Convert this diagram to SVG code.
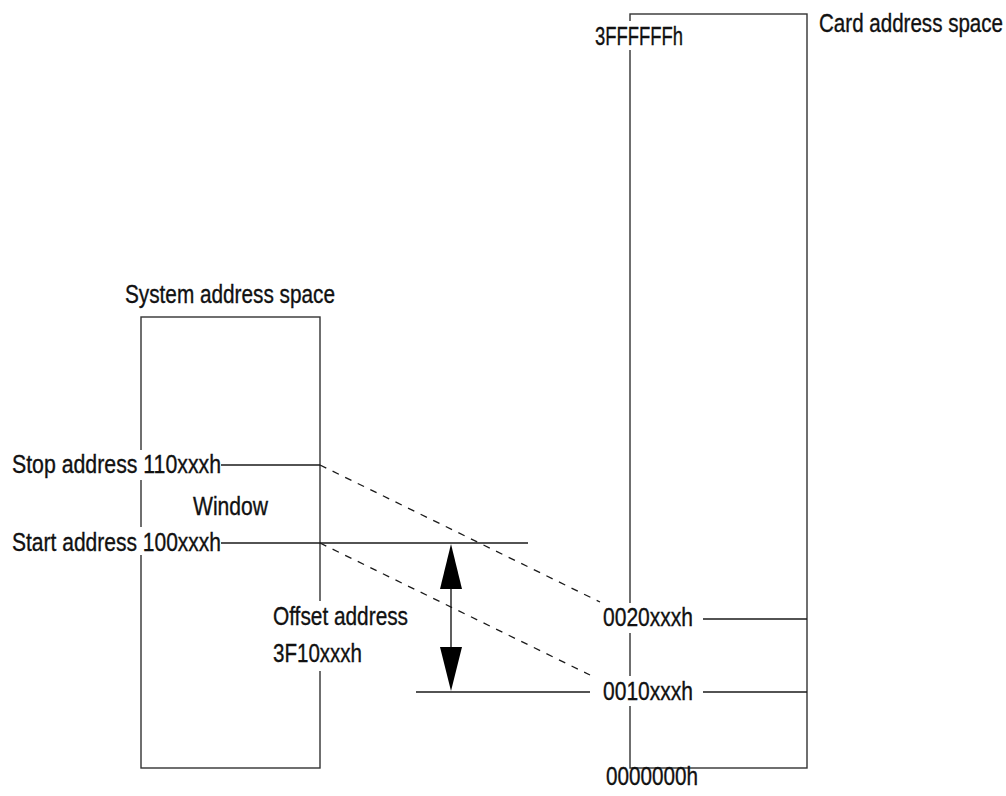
<svg xmlns="http://www.w3.org/2000/svg" width="1006" height="796" viewBox="0 0 1006 796">
<style>
.t{font-family:"Liberation Sans",Arial,sans-serif;font-size:25.5px;fill:#111;stroke:#111;stroke-width:0.35}
.ln{stroke:#1a1a1a;stroke-width:1.4;fill:none}
.box{stroke:#333;stroke-width:1.4;fill:none}
.dash{stroke:#1a1a1a;stroke-width:1.3;fill:none;stroke-dasharray:7 7}
.bg{fill:#fff}
.head{fill:#000}
</style>
<rect width="1006" height="796" fill="#fff"/>
<g id="card-space">
<rect class="box" x="630" y="14" width="177" height="754"/>
</g>
<g id="system-space">
<rect class="box" x="141" y="317" width="179" height="451"/>
</g>
<g id="connectors">
<line class="ln" x1="221" y1="465" x2="320" y2="465"/>
<line class="ln" x1="221" y1="543" x2="528" y2="543"/>
<line class="dash" x1="320" y1="465" x2="600" y2="602"/>
<line class="dash" x1="320" y1="543" x2="590" y2="675"/>
<line class="ln" x1="703" y1="619" x2="807" y2="619"/>
<line class="ln" x1="416" y1="692" x2="590" y2="692"/>
<line class="ln" x1="703" y1="692" x2="807" y2="692"/>
<g id="offset-arrow">
<line class="ln" x1="451" y1="585" x2="451" y2="650"/>
<polygon class="head" points="451,544 462,589 440,589"/>
<polygon class="head" points="451,691 462,647 440,647"/>
</g>
</g>
<g id="labels">
<g id="card-title"><text class="t" transform="translate(819,32) scale(0.8,1)" textLength="230" lengthAdjust="spacingAndGlyphs">Card address space</text></g>
<g id="top-addr"><rect class="bg" x="592" y="21" width="94" height="29"/><text class="t" transform="translate(595,45) scale(0.8,1)" textLength="110" lengthAdjust="spacingAndGlyphs">3FFFFFFh</text></g>
<g id="system-title"><text class="t" transform="translate(125,303) scale(0.8,1)" textLength="262.5" lengthAdjust="spacingAndGlyphs">System address space</text></g>
<g id="stop"><rect class="bg" x="8" y="450" width="213" height="30"/><text class="t" transform="translate(12,473) scale(0.8,1)" textLength="261.3" lengthAdjust="spacingAndGlyphs">Stop address 110xxxh</text></g>
<g id="window"><text class="t" transform="translate(193,515) scale(0.8,1)" textLength="93.8" lengthAdjust="spacingAndGlyphs">Window</text></g>
<g id="start"><rect class="bg" x="8" y="527" width="213" height="28"/><text class="t" transform="translate(12,551) scale(0.8,1)" textLength="261.3" lengthAdjust="spacingAndGlyphs">Start address 100xxxh</text></g>
<g id="offset"><rect class="bg" x="268" y="601" width="144" height="70"/><text class="t" transform="translate(273,625) scale(0.8,1)" textLength="168.8" lengthAdjust="spacingAndGlyphs">Offset address</text><text class="t" transform="translate(273,662) scale(0.8,1)" textLength="111.3" lengthAdjust="spacingAndGlyphs">3F10xxxh</text></g>
<g id="addr-0020"><rect class="bg" x="597" y="603" width="103" height="30"/><text class="t" transform="translate(603,626) scale(0.8,1)" textLength="112.5" lengthAdjust="spacingAndGlyphs">0020xxxh</text></g>
<g id="addr-0010"><rect class="bg" x="597" y="676" width="103" height="30"/><text class="t" transform="translate(603,700) scale(0.8,1)" textLength="112.5" lengthAdjust="spacingAndGlyphs">0010xxxh</text></g>
<g id="bottom-addr"><text class="t" transform="translate(606,785) scale(0.8,1)" textLength="115" lengthAdjust="spacingAndGlyphs">0000000h</text></g>
</g>
</svg>
